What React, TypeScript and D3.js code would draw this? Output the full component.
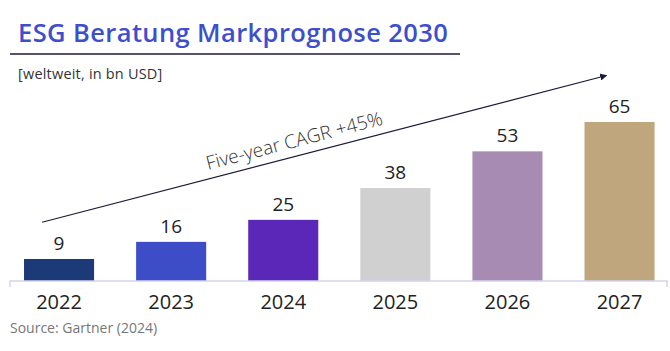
import React from 'react';
import * as d3 from 'd3';

const years = ['2022', '2023', '2024', '2025', '2026', '2027'];
const values = [9, 16, 25, 38, 53, 65];
const barColors = ['#1c3a78', '#3d4dc8', '#5b27b8', '#d0d0d0', '#a78bb3', '#bfa67c'];

const title = 'ESG Beratung Markprognose 2030';
const subtitle = '[weltweit, in bn USD]';
const cagrLabel = 'Five-year CAGR +45%';
const source = 'Source: Gartner (2024)';

const W = 670;
const H = 351;
const FONT = '"Open Sans", "Noto Sans", sans-serif';

const App = () => {
    const x = d3.scaleBand<string>()
        .domain(years)
        .range([3, 675.6])
        .paddingInner(0.375)
        .paddingOuter(0.1875);

    const y = d3.scaleLinear()
        .domain([0, 65])
        .range([281, 122]);

    // arrow annotation in data space: from 2022 to beyond 2027
    const arrowStart: [number, number] = [x('2022')! + 18, y(24)];
    const arrowEnd: [number, number] = [x('2027')! + 22, y(84)];
    const angle = Math.atan2(arrowEnd[1] - arrowStart[1], arrowEnd[0] - arrowStart[0]) * 180 / Math.PI;
    const line = d3.line();

    return (
        <svg width={W} height={H} style={{ position: 'absolute', left: 0, top: 0, background: '#fff' }}
            fontFamily={FONT}>
            <defs>
                <marker id="arrowhead" viewBox="0 0 10 10" refX="9" refY="5"
                    markerWidth="7" markerHeight="7" orient="auto" markerUnits="userSpaceOnUse">
                    <path d="M0,0 L10,5 L0,10 z" fill="#1a1a3a" />
                </marker>
            </defs>

            <text x={18} y={42} fontSize={25.5} letterSpacing={0.4} fill="#3d4fcc" fontWeight={600}>{title}</text>
            <line x1={10} x2={460} y1={54} y2={54} stroke="#1a1a3a" strokeWidth={1.5} />
            <text x={18} y={79} fontSize={14.5} letterSpacing={0.2} fill="#333">{subtitle}</text>

            {years.map((yr, i) => (
                <g key={yr}>
                    <rect x={x(yr)} y={y(values[i])} width={x.bandwidth()}
                        height={y(0) - y(values[i])} fill={barColors[i]} />
                    <text x={x(yr)! + x.bandwidth() / 2} y={y(values[i]) - 9}
                        textAnchor="middle" fontSize={19} fill="#222">{values[i]}</text>
                    <text x={x(yr)! + x.bandwidth() / 2} y={309}
                        textAnchor="middle" fontSize={20} fill="#222">{yr}</text>
                </g>
            ))}

            <path d={`M10,287 V${y(0)} H667 V287`} fill="none" stroke="#d4d4f0" strokeWidth={1.5} />

            <path d={line([arrowStart, arrowEnd])!} stroke="#1a1a3a" strokeWidth={1.2}
                fill="none" markerEnd="url(#arrowhead)" />
            <text transform={`translate(208,170) rotate(${angle})`} fontSize={19}
                fontWeight={300} fill="#333">{cagrLabel}</text>

            <text x={10} y={333} fontSize={14} fill="#777">{source}</text>
        </svg>
    );
};

export default App;
